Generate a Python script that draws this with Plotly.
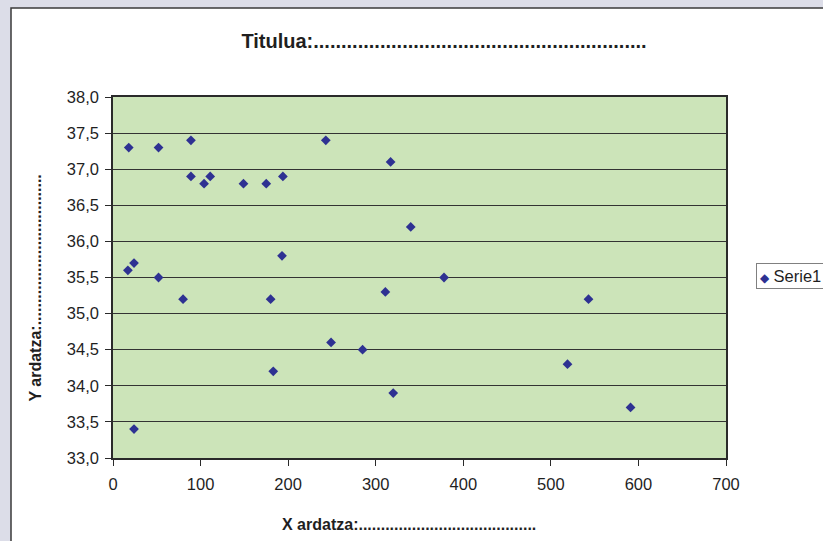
import plotly.graph_objects as go

# Measurement pairs (X, Y)
x_vals = [18, 52, 89, 89, 111, 104, 149, 175, 194, 243, 317, 340, 378, 193,
          17, 24, 52, 80, 180, 311, 249, 285, 183, 320, 24, 543, 519, 591]
y_vals = [37.3, 37.3, 37.4, 36.9, 36.9, 36.8, 36.8, 36.8, 36.9, 37.4, 37.1, 36.2,
          35.5, 35.8, 35.6, 35.7, 35.5, 35.2, 35.2, 35.3, 34.6, 34.5, 34.2, 33.9,
          33.4, 35.2, 34.3, 33.7]
series_name = "Serie1"

title_text = "Titulua:" + "." * 60
x_title = "X ardatza:" + "." * 40
y_title = "Y ardatza:" + "." * 34

FONT = "Liberation Sans, Arial, sans-serif"
TXT = "#1f1f1f"
MARK = "#2e3192"
W, H = 823, 541
L, R, T, B = 113, 97, 97, 83
pw, ph = W - L - R, H - T - B


def px_x(p):
    return (p - L) / pw


def px_y(p):
    return (H - B - p) / ph


fig = go.Figure()
fig.add_trace(go.Scatter(
    x=x_vals, y=y_vals, mode="markers", name=series_name,
    marker=dict(symbol="diamond", size=7.5, color=MARK, line=dict(width=0)),
    showlegend=False,
))

# series key box at the right of the plot area
legend_label = (f"<span style='color:{MARK};font-size:12px'>\u25C6</span> "
                f"{series_name}")

fig.update_layout(
    width=W, height=H,
    margin=dict(l=L, r=R, t=T, b=B, autoexpand=False),
    paper_bgcolor="#dcdde8",
    plot_bgcolor="rgba(0,0,0,0)",
    separators=",.",
    font=dict(family=FONT, size=16.5, color=TXT),
    title=dict(text="<b>" + title_text + "</b>", x=444 / W, xref="container",
               xanchor="center", y=1 - 41 / H, yref="container", yanchor="middle",
               font=dict(size=20, color=TXT)),
    shapes=[
        # white chart area with dark frame
        dict(type="rect", xref="paper", yref="paper",
             x0=px_x(11), x1=px_x(900), y0=px_y(620), y1=px_y(8),
             fillcolor="white", line=dict(color="#3a3a3a", width=1.5),
             layer="below"),
        # green plot area
        dict(type="rect", xref="paper", yref="paper", x0=0, x1=1, y0=0, y1=1,
             fillcolor="#cce4b9", line=dict(width=0), layer="below"),
    ],
    annotations=[
        dict(text="<b>" + x_title + "</b>", xref="paper", yref="paper",
             x=px_x(408.5), y=px_y(524), xanchor="center", yanchor="middle",
             showarrow=False, font=dict(size=16, color=TXT)),
        dict(text="<b>" + y_title + "</b>", xref="paper", yref="paper",
             x=px_x(35), y=px_y(288.5), xanchor="center", yanchor="middle",
             textangle=-90, showarrow=False, font=dict(size=16, color=TXT)),
        dict(text=legend_label, xref="paper", yref="paper",
             x=px_x(756), y=px_y(263), xanchor="left", yanchor="top",
             showarrow=False, align="left", bgcolor="white",
             bordercolor="#808080", borderwidth=1, borderpad=3,
             font=dict(size=16.5, color=TXT)),
    ],
)

fig.update_xaxes(
    range=[0, 700], tick0=0, dtick=100, showgrid=False, zeroline=False,
    showline=True, linecolor="#2a2a2a", linewidth=1.5, mirror=True,
    ticks="outside", ticklen=6, tickcolor="#2a2a2a", tickwidth=1,
    tickfont=dict(size=16.5, color=TXT), ticklabelstandoff=4,
)
fig.update_yaxes(
    range=[33, 38], tick0=33, dtick=0.5, tickformat=".1f",
    showgrid=True, gridcolor="#333333", gridwidth=1, zeroline=False,
    showline=True, linecolor="#2a2a2a", linewidth=1.5, mirror=True,
    ticks="outside", ticklen=6, tickcolor="#2a2a2a", tickwidth=1,
    tickfont=dict(size=16.5, color=TXT), ticklabelstandoff=3,
)

fig.write_html("out.html")
